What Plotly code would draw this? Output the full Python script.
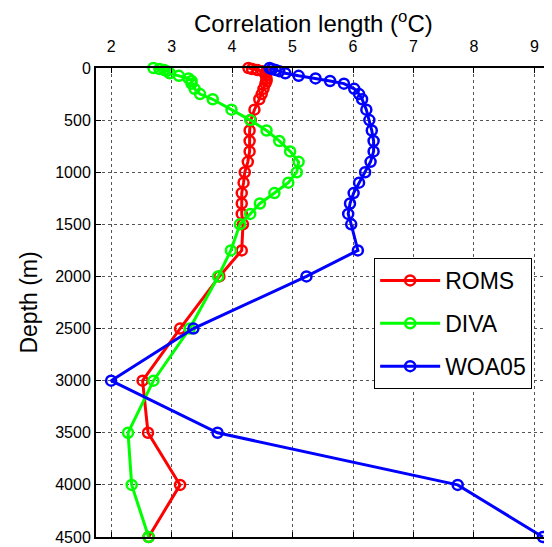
import plotly.graph_objects as go

depth = [0, 10, 20, 30, 50, 75, 100, 125, 150, 200, 250, 300, 400, 500, 600, 700,
         800, 900, 1000, 1100, 1200, 1300, 1400, 1500, 1750, 2000, 2500, 3000,
         3500, 4000, 4500]

roms = [4.27, 4.33, 4.42, 4.50, 4.55, 4.56, 4.57, 4.57, 4.55, 4.52, 4.49, 4.45,
        4.37, 4.31, 4.29, 4.29, 4.29, 4.26, 4.21, 4.19, 4.16, 4.16, 4.16, 4.18,
        4.16, 3.79, 3.14, 2.52, 2.61, 3.14, 2.62]

diva = [2.70, 2.80, 2.88, 2.92, 2.97, 3.12, 3.28, 3.33, 3.33, 3.38, 3.47, 3.68,
        3.99, 4.30, 4.57, 4.78, 4.96, 5.10, 5.07, 4.93, 4.70, 4.46, 4.30, 4.13,
        3.98, 3.77, 3.30, 2.70, 2.28, 2.34, 2.62]

woa05 = [4.62, 4.66, 4.72, 4.78, 4.88, 5.10, 5.38, 5.62, 5.85, 6.02, 6.10, 6.15,
         6.22, 6.27, 6.31, 6.34, 6.34, 6.29, 6.20, 6.10, 6.01, 5.95, 5.92, 5.97,
         6.08, 5.23, 3.36, 2.00, 3.76, 7.73, 9.14]

series = [("ROMS", roms, "#FF0000"), ("DIVA", diva, "#00FF00"), ("WOA05", woa05, "#0000FF")]

x_ticks = [2, 3, 4, 5, 6, 7, 8, 9]
y_ticks = [0, 500, 1000, 1500, 2000, 2500, 3000, 3500, 4000, 4500]

fig = go.Figure()
for name, vals, col in series:
    fig.add_trace(go.Scatter(
        x=vals, y=depth, name=name, legendgroup=name, mode="lines+markers",
        line=dict(color=col, width=3),
        marker=dict(symbol="circle-open", size=10, color=col, line=dict(color=col, width=2.5)),
        cliponaxis=False,
    ))

font = "Liberation Sans, Arial, Helvetica, sans-serif"
# page body has an 8px margin, so the figure is 8px smaller and margins shifted
fig.update_layout(
    width=544, height=539,
    margin=dict(l=88, r=0, t=60, b=10),
    plot_bgcolor="white", paper_bgcolor="white",
    font=dict(family=font, size=16, color="black"),
    showlegend=True,
    legend=dict(x=0.61, y=0.595, xanchor="left", yanchor="top",
                bordercolor="black", borderwidth=1, bgcolor="white",
                font=dict(size=23, family=font), tracegroupgap=10,
                itemwidth=60, entrywidth=95, entrywidthmode="pixels"),
    xaxis=dict(side="top", range=[1.75, 9.29], tickvals=x_ticks,
               ticks="inside", ticklen=5, tickcolor="black",
               showgrid=True, gridcolor="#555", griddash="dot", gridwidth=1,
               showline=True, linecolor="black", linewidth=2, mirror="ticks",
               zeroline=False, tickfont=dict(size=16), ticklabelstandoff=8),
    yaxis=dict(range=[4500, 0], tickvals=y_ticks,
               ticks="inside", ticklen=5, tickcolor="black",
               showgrid=True, gridcolor="#555", griddash="dot", gridwidth=1,
               showline=True, linecolor="black", linewidth=2, mirror=False,
               zeroline=False, tickfont=dict(size=16)),
    annotations=[
        dict(text="Correlation length (<sup>o</sup>C)", xref="paper", yref="paper",
             x=0.476, y=1.098, showarrow=False, font=dict(size=24),
             xanchor="center", yanchor="middle"),
        dict(text="Depth (m)", xref="paper", yref="paper", x=-0.149, y=0.5,
             textangle=-90, showarrow=False, font=dict(size=23),
             xanchor="center", yanchor="middle"),
    ],
)

fig.write_html("out.html")
